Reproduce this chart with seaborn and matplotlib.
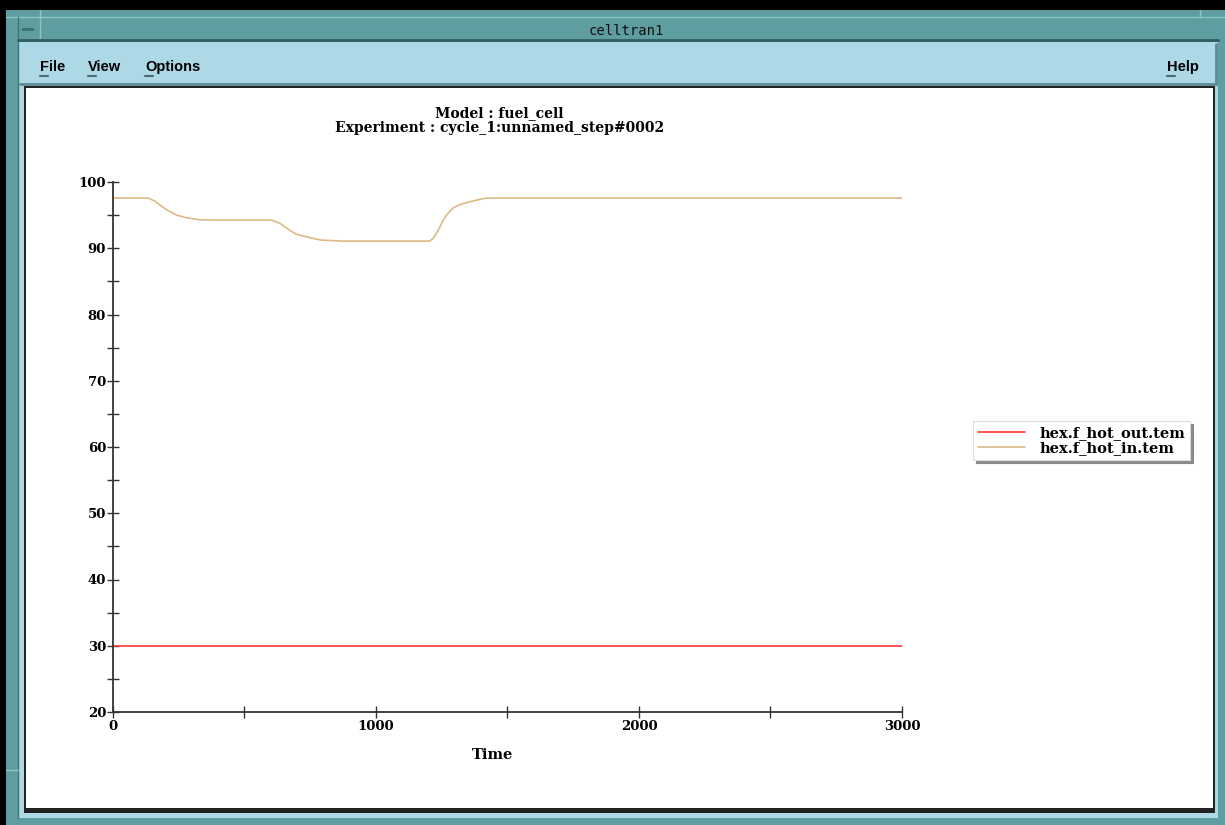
import pandas as pd
import matplotlib
matplotlib.use("Agg")
import matplotlib.pyplot as plt
import seaborn as sns
from matplotlib.patches import Rectangle
from matplotlib.lines import Line2D
from matplotlib.ticker import MultipleLocator

# values
time_in = [0, 134, 160, 179, 204, 242, 280, 331, 400, 603, 635, 673, 698, 749,
           787, 869, 1205, 1218, 1230, 1243, 1256, 1268, 1281, 1294, 1313, 1345,
           1383, 1418, 3000]
hot_in = [97.57, 97.57, 97.1, 96.5, 95.8, 95.0, 94.6, 94.3, 94.25, 94.25, 93.75,
          92.7, 92.1, 91.6, 91.25, 91.08, 91.08, 91.5, 92.3, 93.2, 94.25, 95.0,
          95.6, 96.1, 96.5, 96.9, 97.27, 97.57, 97.57]
time_out = [0, 3000]
hot_out = [30, 30]
series_names = ["hex.f_hot_out.tem", "hex.f_hot_in.tem"]
x_ticks = [0, 1000, 2000, 3000]
y_ticks = [20, 30, 40, 50, 60, 70, 80, 90, 100]

W, H = 1225, 825
TEAL = "#5f9ea0"
LIGHT = "#add8e6"

sns.set_style("ticks")
plt.rcParams["font.family"] = ["DejaVu Serif"]
plt.rcParams["font.weight"] = "bold"
plt.rcParams["text.color"] = "black"

fig = plt.figure(figsize=(W / 100, H / 100), dpi=100)
fig.patch.set_facecolor(LIGHT)


# window decoration, drawn in pixel units from the top left corner
def box(x0, y0, x1, y1, color):
    fig.patches.append(Rectangle((x0 / W, 1 - y1 / H), (x1 - x0) / W, (y1 - y0) / H,
                                 transform=fig.transFigure, facecolor=color,
                                 edgecolor="none", zorder=-5))


def seg(x0, y0, x1, y1, color, lw=1.0):
    fig.lines.append(Line2D([x0 / W, x1 / W], [1 - y0 / H, 1 - y1 / H],
                            transform=fig.transFigure, color=color, lw=lw, zorder=-4))


box(0, 0, W, H, TEAL)
box(0, 0, W, 10, "black")
box(0, 0, 6, H, "black")
box(18, 42, 1218, 818, LIGHT)
seg(6, 17, W, 17, "#8fc4c6")
seg(18, 17, 18, 818, "#3d7476")
seg(40, 10, 40, 40, "#8fc4c6")
seg(1200, 10, 1200, 17, "#8fc4c6")
seg(18, 40, 1218, 40, "#2f5e60", 2)
seg(6, 770, 18, 770, "#8fc4c6")
box(22, 28, 34, 31, "#3d7476")
# menu bar
seg(20, 84, 1216, 84, "#5d8a96", 2)
seg(1216, 44, 1216, 84, "#5d8a96", 2)
# canvas
box(24, 86, 1215, 813, "#222222")
box(26, 88, 1213, 808, "white")

fig.text(626 / W, 1 - 31 / H, "celltran1", family="DejaVu Sans Mono", weight="normal",
         fontsize=10, ha="center", va="center", color="#111111")
for label, xp in [("File", 40), ("View", 88), ("Options", 145), ("Help", 1167)]:
    fig.text(xp / W, 1 - 67 / H, label, family="Liberation Sans", weight="bold",
             fontsize=10.5, ha="left", va="center", color="black")
    seg(xp, 76, xp + 8, 76, "#4a6a74", 1.5)

# the plot itself
ax = fig.add_axes([113 / W, 1 - 712 / H, 789 / W, 530 / H])
ax.set_zorder(10)
ax.set_facecolor("none")

sns.lineplot(x=time_out, y=hot_out, color="#ff3333", lw=1.2, label=series_names[0],
             estimator=None, sort=False, ax=ax)
sns.lineplot(x=time_in, y=hot_in, color="#deb887", lw=1.2, label=series_names[1],
             estimator=None, sort=False, ax=ax)

ax.set_xlim(0, 3000)
ax.set_ylim(20, 100)
ax.set_xticks(x_ticks)
ax.set_yticks(y_ticks)
ax.xaxis.set_minor_locator(MultipleLocator(500))
ax.yaxis.set_minor_locator(MultipleLocator(5))
ax.tick_params(which="both", direction="inout", length=8, width=1, color="#333333",
               labelsize=9.5, labelcolor="black")
ax.tick_params(axis="y", pad=1)
ax.tick_params(axis="x", pad=2)
sns.despine(ax=ax)
for s in ["left", "bottom"]:
    ax.spines[s].set_color("#333333")
    ax.spines[s].set_linewidth(1.3)

ax.set_title("Model : fuel_cell\nExperiment : cycle_1:unnamed_step#0002",
             fontsize=10, fontweight="bold", pad=36, linespacing=1.05, x=0.49,
             color="black")
ax.set_xlabel("Time", fontsize=10.5, fontweight="bold", color="black")
ax.xaxis.set_label_coords((493 - 113) / 789, -(748 - 712) / 530)
ax.set_ylabel("")

leg = ax.legend(loc="upper left", bbox_to_anchor=(973 / W, 1 - 421 / H),
                bbox_transform=fig.transFigure, fancybox=False, frameon=True,
                edgecolor="#dddddd", framealpha=1, fontsize=10.5,
                handlelength=3.2, handletextpad=1.0, borderpad=0.35,
                borderaxespad=0, labelspacing=0.05,
                shadow={"color": "#8a8a8a", "alpha": 1})
leg.get_frame().set_linewidth(0.8)
for t in leg.get_texts():
    t.set_color("black")

fig.savefig("out.png", dpi=100, facecolor=fig.get_facecolor())
